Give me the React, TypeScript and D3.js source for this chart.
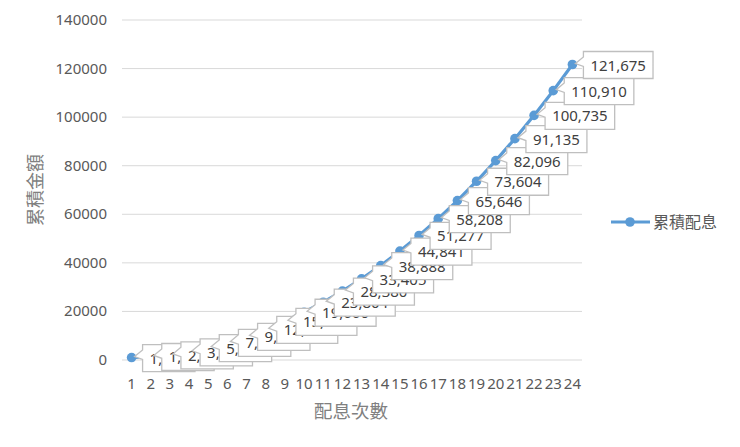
import React from "react";
import * as d3 from "d3";

const categories: string[] = Array.from({ length: 24 }, (_, i) => String(i + 1));
const values: number[] = [
  1000, 1450, 2100, 3380, 5125, 7242, 9744, 12641, 15942, 19660, 23804, 28380,
  33405, 38888, 44841, 51277, 58208, 65646, 73604, 82096, 91135, 100735, 110910, 121675,
];
const yTicks: number[] = [0, 20000, 40000, 60000, 80000, 100000, 120000, 140000];
const seriesName = "累積配息";
const yTitle = "累積金額";
const xTitle = "配息次數";

const W = 740;
const H = 447;
const left = 122;
const right = 582;
const top = 20;
const bottom = 360;
const blue = "#5B9BD5";
const fmt = d3.format(",");
const cjk = "'Noto Sans CJK TC', 'Noto Sans', sans-serif";
const num = "'Noto Sans', sans-serif";

function textWidth(s: string): number {
  let w = 0;
  for (const c of s) w += c === "," ? 4.0 : 8.6;
  return w;
}

export default function App() {
  const x = d3.scaleBand<string>().domain(categories).range([left, right]);
  const y = d3.scaleLinear().domain([0, 140000]).range([bottom, top]);
  const cx = (i: number) => (x(categories[i]) as number) + x.bandwidth() / 2;
  const line = d3
    .line<number>()
    .x((_, i) => cx(i))
    .y((d) => y(d));

  return (
    <svg width={W} height={H} style={{ position: "absolute", left: 0, top: 0 }}>
      <rect x={0} y={0} width={W} height={H} fill="#fff" />
      {yTicks.map((t) => (
        <g key={t}>
          <line x1={left} x2={right} y1={y(t)} y2={y(t)} stroke="#D9D9D9" strokeWidth={1} />
          <text x={107} y={y(t) + 5} textAnchor="end" fontSize={15} fontFamily={num} fill="#595959">
            {t}
          </text>
        </g>
      ))}
      {categories.map((c, i) => (
        <text key={c} x={cx(i)} y={389} textAnchor="middle" fontSize={15} fontFamily={num} fill="#595959">
          {c}
        </text>
      ))}
      <text
        transform={`translate(42,190) rotate(-90)`}
        textAnchor="middle"
        fontSize={18}
        fontFamily={cjk}
        fill="#808080"
      >
        {yTitle}
      </text>
      <text x={351} y={418} textAnchor="middle" fontSize={18.5} fontFamily={cjk} fill="#808080">
        {xTitle}
      </text>
      <path d={line(values) || ""} fill="none" stroke={blue} strokeWidth={3.2} strokeLinejoin="round" />
      {values.map((v, i) => (
        <circle key={i} cx={cx(i)} cy={y(v)} r={4.8} fill={blue} />
      ))}
      {values.map((v, i) => {
        const px = cx(i);
        const py = y(v);
        const label = fmt(v);
        const w = textWidth(label) + 14;
        const h = 27;
        const bx = px + 11;
        const by = py - 13;
        const d = `M${bx},${by} L${bx + w},${by} L${bx + w},${by + h} L${bx},${by + h} L${bx},${by + h * 0.55} L${px + 3},${py - 1} L${bx},${by + h * 0.2} Z`;
        return (
          <g key={"l" + i}>
            <path d={d} fill="#fff" stroke="#BFBFBF" strokeWidth={1.3} />
            <text x={bx + w / 2} y={by + h / 2 + 5.5} textAnchor="middle" fontSize={15} fontFamily={num} fill="#404040">
              {label}
            </text>
          </g>
        );
      })}
      <line x1={611} x2={650} y1={222} y2={222} stroke={blue} strokeWidth={3.2} />
      <circle cx={630} cy={222} r={4.8} fill={blue} />
      <text x={653} y={228} fontSize={16} fontFamily={cjk} fill="#595959">
        {seriesName}
      </text>
    </svg>
  );
}
